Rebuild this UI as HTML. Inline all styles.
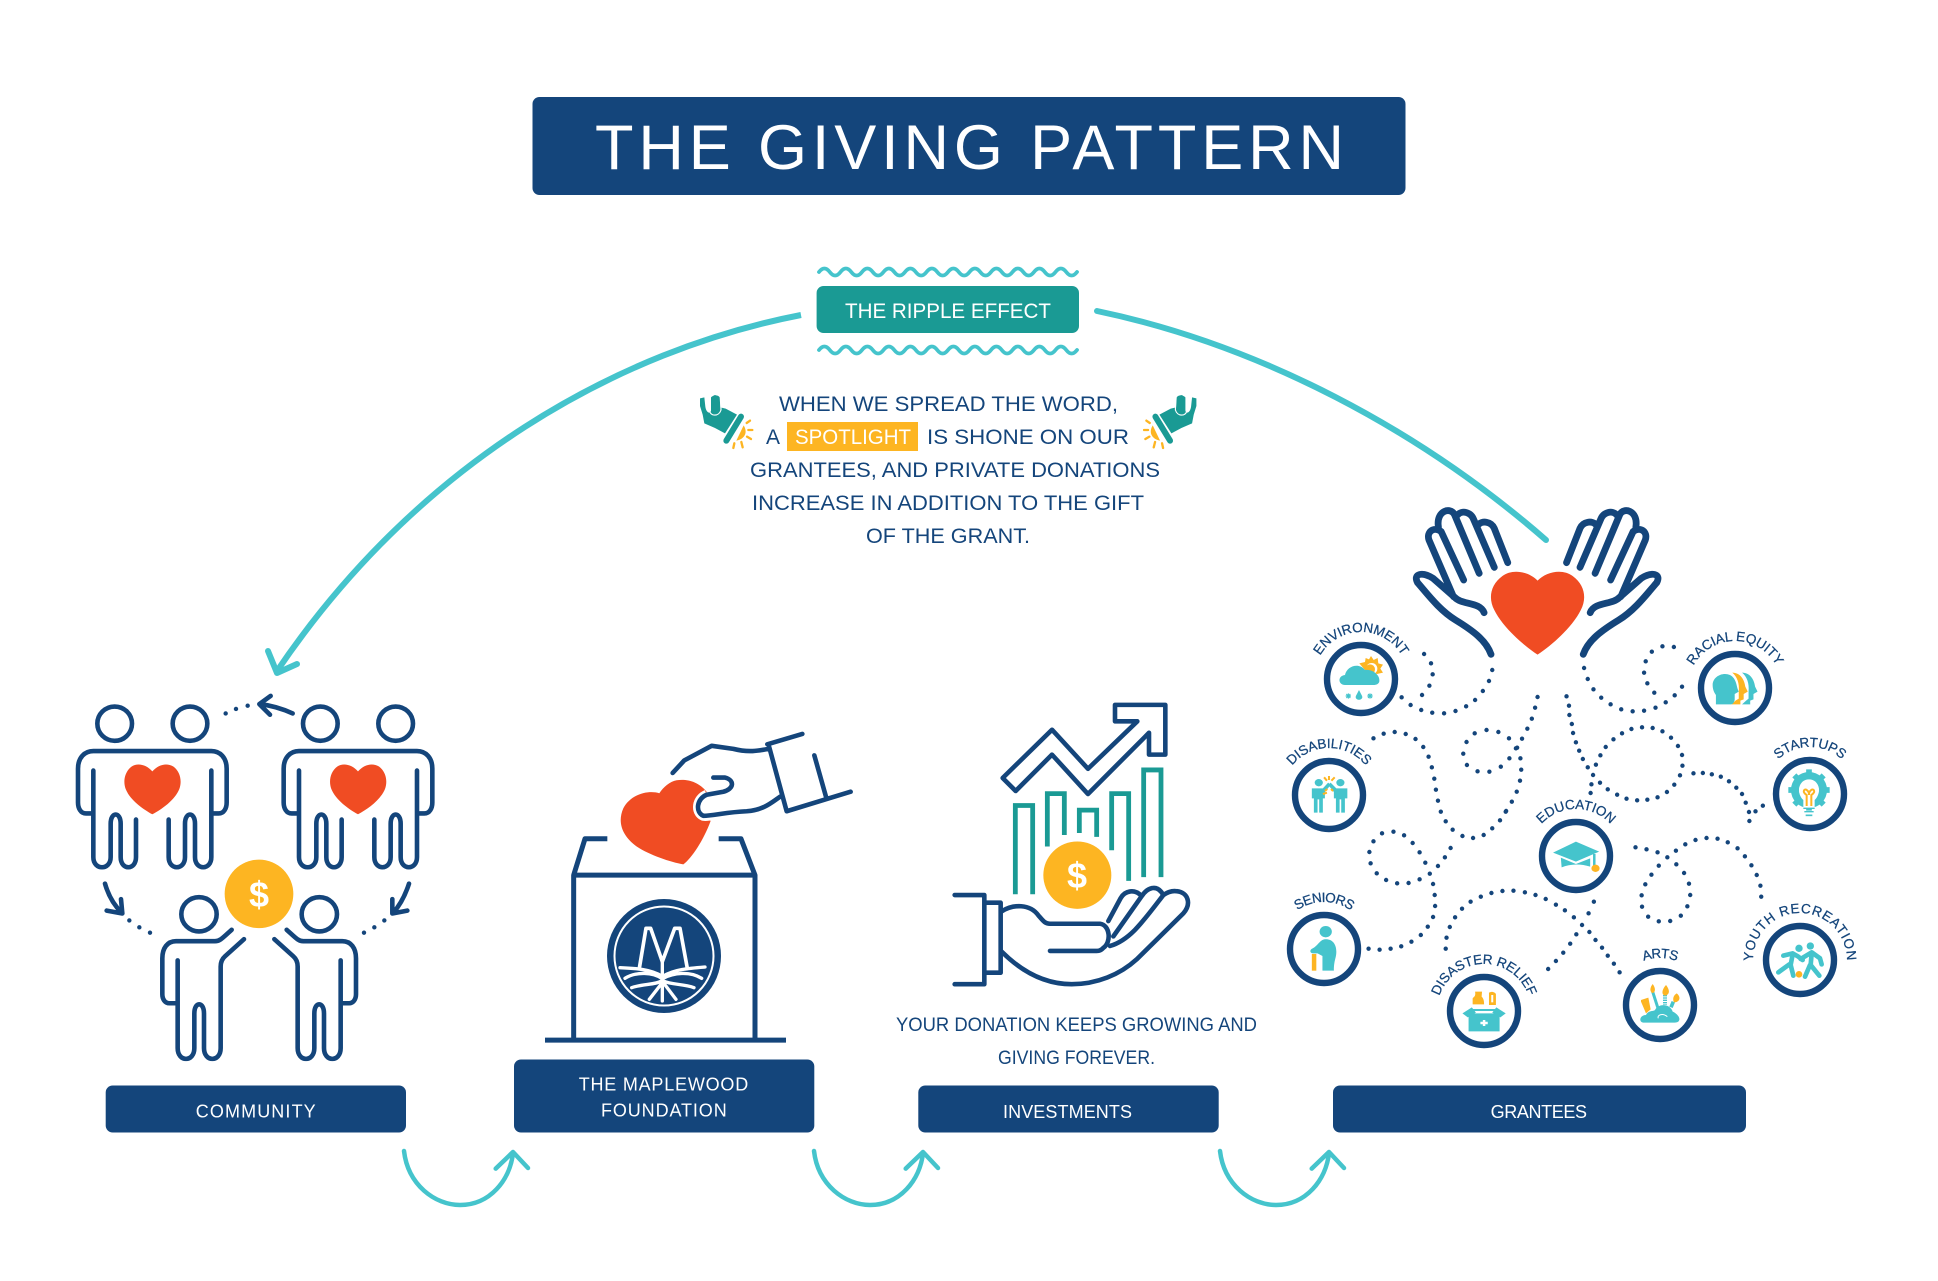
<!DOCTYPE html>
<html><head><meta charset="utf-8"><title>The Giving Pattern</title>
<style>
html,body{margin:0;padding:0;background:#fff}
svg{display:block}
text{font-family:"Liberation Sans",sans-serif}
.z *{vector-effect:non-scaling-stroke}
.n{fill:none;stroke:#14457b;stroke-width:4.6;stroke-linecap:round;stroke-linejoin:round}
.t{fill:none;stroke:#1a9a94;stroke-width:4.8;stroke-linejoin:miter}
.d{fill:none;stroke:#14457b;stroke-width:4.4;stroke-linecap:round}
.c{fill:none;stroke:#45c4cc;stroke-width:4.5;stroke-linecap:round;stroke-linejoin:round}
.ring{fill:#fff;stroke:#14457b;stroke-width:6.4}
.lab{fill:#14457b;font-size:13.5px;letter-spacing:-.1px;stroke:#14457b;stroke-width:.25}
.bt{fill:#fff;font-size:18px}
.te{fill:#45c4cc}.ye{fill:#fdb522}
</style></head><body>
<svg xmlns="http://www.w3.org/2000/svg" width="1938" height="1281" viewBox="0 0 1938 1281">
<defs>
<path id="a1" d="M1361 726A47 47 0 1 1 1361 632A47 47 0 1 1 1361 726"/>
<path id="a2" d="M1735 735A47 47 0 1 1 1735 641A47 47 0 1 1 1735 735"/>
<path id="a3" d="M1329 842A47 47 0 1 1 1329 748A47 47 0 1 1 1329 842"/>
<path id="a4" d="M1810 841A47 47 0 1 1 1810 747A47 47 0 1 1 1810 841"/>
<path id="a5" d="M1576 903A47 47 0 1 1 1576 809A47 47 0 1 1 1576 903"/>
<path id="a6" d="M1324 996A47 47 0 1 1 1324 902A47 47 0 1 1 1324 996"/>
<path id="a7" d="M1484 1058A47 47 0 1 1 1484 964A47 47 0 1 1 1484 1058"/>
<path id="a8" d="M1660 1052A47 47 0 1 1 1660 958A47 47 0 1 1 1660 1052"/>
<path id="a9" d="M1800 1007A47 47 0 1 1 1800 913A47 47 0 1 1 1800 1007"/>
</defs>
<rect width="1938" height="1281" fill="#fff"/>

<!-- title -->
<rect x="532.5" y="97" width="873" height="98" rx="7" fill="#14457b"/>
<text x="595" y="169" font-size="63" fill="#fff" textLength="749" lengthAdjust="spacing">THE GIVING PATTERN</text>

<!-- ripple -->
<path d="M819 272q5.375-7 10.75 0t10.75 0t10.75 0t10.75 0t10.75 0t10.75 0t10.75 0t10.75 0t10.75 0t10.75 0t10.75 0t10.75 0t10.75 0t10.75 0t10.75 0t10.75 0t10.75 0t10.75 0t10.75 0t10.75 0t10.75 0t10.75 0t10.75 0t10.75 0" fill="none" stroke="#45c4cc" stroke-width="3.8" stroke-linecap="round"/>
<path d="M819 350q5.375-7 10.75 0t10.75 0t10.75 0t10.75 0t10.75 0t10.75 0t10.75 0t10.75 0t10.75 0t10.75 0t10.75 0t10.75 0t10.75 0t10.75 0t10.75 0t10.75 0t10.75 0t10.75 0t10.75 0t10.75 0t10.75 0t10.75 0t10.75 0t10.75 0" fill="none" stroke="#45c4cc" stroke-width="3.8" stroke-linecap="round"/>
<rect x="816.6" y="286" width="262.4" height="47" rx="7" fill="#1a9a94"/>
<text x="845" y="318" font-size="21.5" fill="#fff" textLength="206" lengthAdjust="spacingAndGlyphs">THE RIPPLE EFFECT</text>

<!-- big arcs -->
<path d="M801 315C620 350 420 460 277 671" fill="none" stroke="#45c4cc" stroke-width="6"/>
<path d="M268 651L277 673L297 664" fill="none" stroke="#45c4cc" stroke-width="6" stroke-linecap="round" stroke-linejoin="round"/>
<path d="M1097 311C1260 345 1420 430 1546 540" fill="none" stroke="#45c4cc" stroke-width="6" stroke-linecap="round"/>

<!-- spotlight text -->
<g fill="#14457b" font-size="21">
<text x="779" y="411" textLength="339" lengthAdjust="spacingAndGlyphs">WHEN WE SPREAD THE WORD,</text>
<text x="766" y="444" textLength="14" lengthAdjust="spacingAndGlyphs">A</text>
<text x="927" y="444" textLength="202" lengthAdjust="spacingAndGlyphs">IS SHONE ON OUR</text>
<text x="750" y="477" textLength="410" lengthAdjust="spacingAndGlyphs">GRANTEES, AND PRIVATE DONATIONS</text>
<text x="752" y="510" textLength="392" lengthAdjust="spacingAndGlyphs">INCREASE IN ADDITION TO THE GIFT</text>
<text x="866" y="543" textLength="164" lengthAdjust="spacingAndGlyphs">OF THE GRANT.</text>
</g>
<rect x="787" y="422" width="131" height="29" fill="#fdb522"/>
<text x="795" y="444" font-size="21" fill="#fff" textLength="116" lengthAdjust="spacingAndGlyphs">SPOTLIGHT</text>

<!-- flashlights -->
<g transform="translate(695,390) scale(.3333)">
<path d="M15 25L28 22L31 50C34 70 46 72 48 62L48 22C55 14 70 14 74 22L76 52L92 56L126 74L90 130L60 114L28 100L23 74L15 48Z" fill="#1a9a94"/>
<path d="M42 28L44 62C46 80 72 80 78 60L77 25" stroke="#fff" stroke-width="3.5" fill="none"/>
<path d="M60 22L61 64" stroke="#1a9a94" stroke-width="13" fill="none" stroke-linecap="round"/>
<path d="M138 80L94 152" stroke="#1a9a94" stroke-width="18" stroke-linecap="round"/>
<path d="M146 106C158 125 152 146 124 152Z" class="ye"/>
<path d="M155 99L165 92M160 120L172 120M156 140L168 147M139 156L143 172M118 160L115 174" stroke="#fdb522" stroke-width="7" stroke-linecap="round"/>
</g>
<g transform="translate(1896.4,0) scale(-1,1)">
<g transform="translate(695,390) scale(.3333)">
<path d="M15 25L28 22L31 50C34 70 46 72 48 62L48 22C55 14 70 14 74 22L76 52L92 56L126 74L90 130L60 114L28 100L23 74L15 48Z" fill="#1a9a94"/>
<path d="M42 28L44 62C46 80 72 80 78 60L77 25" stroke="#fff" stroke-width="3.5" fill="none"/>
<path d="M60 22L61 64" stroke="#1a9a94" stroke-width="13" fill="none" stroke-linecap="round"/>
<path d="M138 80L94 152" stroke="#1a9a94" stroke-width="18" stroke-linecap="round"/>
<path d="M146 106C158 125 152 146 124 152Z" class="ye"/>
<path d="M155 99L165 92M160 120L172 120M156 140L168 147M139 156L143 172M118 160L115 174" stroke="#fdb522" stroke-width="7" stroke-linecap="round"/>
</g></g>

<!-- community -->
<g class="z" transform="translate(50,640) scale(.33333,.40816)">
<g>
<ellipse class="n" cx="194" cy="205" rx="52" ry="42"/>
<ellipse class="n" cx="420" cy="205" rx="52" ry="42"/>
<path class="n" d="M130 320V532C130 565 182 565 182 532V450C182 420 212 420 212 450V532C212 565 258 565 258 532V440"/>
<path class="n" d="M356 440V532C356 565 405 565 405 532V450C405 420 435 420 435 450V532C435 565 484 565 484 532V320"/>
<path class="n" d="M126 425H108C92 425 84 412 84 398V315C84 288 104 272 130 272H484C510 272 530 288 530 315V398C530 412 522 425 506 425H488"/>
<path fill="#f04c23" d="M307 322C290 305 262 300 245 310C225 322 218 345 227 365C240 392 280 415 307 427C335 415 375 392 388 365C397 345 390 322 370 310C350 300 325 305 307 322Z"/>
</g>
<g transform="translate(617,0)">
<ellipse class="n" cx="194" cy="205" rx="52" ry="42"/>
<ellipse class="n" cx="420" cy="205" rx="52" ry="42"/>
<path class="n" d="M130 320V532C130 565 182 565 182 532V450C182 420 212 420 212 450V532C212 565 258 565 258 532V440"/>
<path class="n" d="M356 440V532C356 565 405 565 405 532V450C405 420 435 420 435 450V532C435 565 484 565 484 532V320"/>
<path class="n" d="M126 425H108C92 425 84 412 84 398V315C84 288 104 272 130 272H484C510 272 530 288 530 315V398C530 412 522 425 506 425H488"/>
<path fill="#f04c23" d="M307 322C290 305 262 300 245 310C225 322 218 345 227 365C240 392 280 415 307 427C335 415 375 392 388 365C397 345 390 322 370 310C350 300 325 305 307 322Z"/>
</g>
<path class="n" d="M728 180Q680 162 630 157M662 137L628 157L660 183"/>
<path class="d" d="M593 161h.01M558 169h.01M527 180h.01M238 687h.01M268 704h.01M300 717h.01M1003 687h.01M973 704h.01M942 717h.01"/>
<path class="n" d="M165 597Q180 640 215 668M213 635L217 670L170 663"/>
<path class="n" d="M1077 597Q1060 640 1030 668M1027 635L1027 670L1072 663"/>
<ellipse class="ye" cx="627" cy="622" rx="103" ry="84"/>
<g>
<ellipse class="n" cx="447" cy="672" rx="53" ry="42"/>
<path class="n" d="M383 785V1000C383 1035 433 1035 433 1000V915C433 885 462 885 462 915V1000C462 1035 512 1035 512 1000V800C512 788 518 780 525 775L582 733"/>
<path class="n" d="M378 890H358C345 890 337 880 337 868V780C337 755 352 738 378 738H495C510 738 518 730 545 710"/>
</g>
<g transform="translate(1255,0) scale(-1,1)">
<ellipse class="n" cx="447" cy="672" rx="53" ry="42"/>
<path class="n" d="M383 785V1000C383 1035 433 1035 433 1000V915C433 885 462 885 462 915V1000C462 1035 512 1035 512 1000V800C512 788 518 780 525 775L582 733"/>
<path class="n" d="M378 890H358C345 890 337 880 337 868V780C337 755 352 738 378 738H495C510 738 518 730 545 710"/>
</g>
</g>
<text x="259" y="907" font-size="36" font-weight="bold" fill="#fff" text-anchor="middle">$</text>

<!-- maple box -->
<g class="z" transform="translate(500,680) scale(.33333,.38265)">
<path class="n" style="stroke-linecap:butt;stroke-width:5" d="M135 941H858M221 940V510H765V940M221 510L255 415H322M765 510L723 415H656"/>
<path fill="#f04c23" d="M478 296C450 288 395 295 370 335C350 375 370 410 410 435C450 458 510 475 550 482C575 465 610 420 632 368L590 345L620 292C595 265 560 258 530 262C510 265 490 280 478 296Z"/>
<path fill="none" stroke="#fff" stroke-width="10" d="M620 300C590 310 585 345 610 355C625 357 640 352 660 350"/>
<path class="n" d="M518 243L553 210L635 172L700 180C745 190 775 185 805 180M640 255H675C705 262 702 285 670 292L620 300C590 310 585 345 610 355C640 355 680 345 740 343C790 340 815 320 840 305M802 168L907 141M806 170L860 343L1052 292M943 197L978 305"/>
</g>
<circle cx="664" cy="956" r="57" fill="#14457b"/>
<circle cx="664" cy="956" r="49.5" fill="none" stroke="#fff" stroke-width="2"/>
<g transform="translate(600,891) scale(.3333)" fill="none" stroke="#fff" stroke-linecap="round" stroke-linejoin="round">
<path stroke-width="11" d="M118 232L138 112H152L187 212L224 112H240L262 232"/>
<path stroke-width="10" d="M60 230C110 232 150 235 185 255M315 228C265 232 225 235 190 255M75 262C110 240 160 245 185 262M305 262C270 240 220 245 190 262M95 290C130 278 165 282 185 270M282 290C250 278 215 282 190 270M148 325L187 275M228 325L190 275M187 215V330"/>
</g>

<!-- investments -->
<g class="z" transform="translate(880,680) scale(.33333,.38265)">
<path class="n" d="M368 256L516 130L624 232L772 108H705V65H856V195H807V138L624 298L516 195L407 290Z"/>
<path class="t" d="M406 560V328H458V560M502 435V297H553V405M598 400V340H650V410M695 445V297H746V525M791 515V235H843V515"/>
<ellipse class="ye" cx="592" cy="510" rx="102" ry="88"/>
<path class="n" d="M224 562H313V795H224M313 582H362V765H313"/>
<path class="n" d="M364 605C400 585 450 585 475 615C490 630 495 637 510 637H660C690 640 695 685 670 700C662 708 655 708 645 708H510M365 710C440 775 510 795 575 795C650 795 720 770 770 730L910 610C935 585 925 555 890 552C875 550 862 555 850 562C830 530 800 545 785 565C765 545 735 550 722 570L685 630M690 695C750 680 790 630 850 562M700 670L785 565"/>
</g>
<text x="1077" y="888" font-size="36" font-weight="bold" fill="#fff" text-anchor="middle">$</text>
<g fill="#14457b" font-size="19.5">
<text x="896" y="1031" textLength="361" lengthAdjust="spacingAndGlyphs">YOUR DONATION KEEPS GROWING AND</text>
<text x="998" y="1064" textLength="157" lengthAdjust="spacingAndGlyphs">GIVING FOREVER.</text>
</g>

<!-- bars -->
<g fill="#14457b">
<rect x="105.7" y="1085.5" width="300.3" height="47" rx="7"/>
<rect x="514" y="1059.5" width="300.3" height="73" rx="7"/>
<rect x="918.3" y="1085.5" width="300.4" height="47" rx="7"/>
<rect x="1333" y="1085.5" width="413" height="47" rx="7"/>
</g>
<text class="bt" x="195.7" y="1117.6" textLength="120" lengthAdjust="spacing">COMMUNITY</text>
<text class="bt" x="578.7" y="1090.6" textLength="169.5" lengthAdjust="spacing">THE MAPLEWOOD</text>
<text class="bt" x="601" y="1116.6" textLength="125.7" lengthAdjust="spacing">FOUNDATION</text>
<text class="bt" x="1003" y="1118" textLength="129" lengthAdjust="spacing">INVESTMENTS</text>
<text class="bt" x="1490.6" y="1118" textLength="96.4" lengthAdjust="spacing">GRANTEES</text>

<!-- small curved arrows -->
<g><path class="c" d="M404 1151C408 1185 435 1205 460 1205C490 1205 510 1180 513 1153M495.7 1168.6L513 1152L528 1168"/></g>
<g transform="translate(410,0)"><path class="c" d="M404 1151C408 1185 435 1205 460 1205C490 1205 510 1180 513 1153M495.7 1168.6L513 1152L528 1168"/></g>
<g transform="translate(816,0)"><path class="c" d="M404 1151C408 1185 435 1205 460 1205C490 1205 510 1180 513 1153M495.7 1168.6L513 1152L528 1168"/></g>

<!-- hands & heart -->
<g class="z" transform="translate(1280,490) scale(.40816,.33333)">
<g fill="none" stroke="#14457b" stroke-width="6.8" stroke-linecap="round" stroke-linejoin="round">
<path d="M517 493C505 450 470 420 430 390C390 360 360 310 337 278C325 250 350 245 375 265L428 322C445 345 490 335 500 368M425 320L365 150C358 125 378 108 395 125L450 270M388 118V110C382 60 420 50 428 75L488 250M435 75C445 60 468 65 475 90L525 232M485 105C495 90 518 95 525 115L558 218"/>
<g transform="translate(1260,0) scale(-1,1)"><path d="M517 493C505 450 470 420 430 390C390 360 360 310 337 278C325 250 350 245 375 265L428 322C445 345 490 335 500 368M425 320L365 150C358 125 378 108 395 125L450 270M388 118V110C382 60 420 50 428 75L488 250M435 75C445 60 468 65 475 90L525 232M485 105C495 90 518 95 525 115L558 218"/></g>
</g>
<path fill="#f04c23" d="M631 272C610 245 570 235 545 258C515 285 510 325 525 360C545 410 595 465 631 494C667 465 717 410 737 360C752 325 747 285 717 258C692 235 652 245 631 272Z"/>
<path class="d" d="M520 540h.01M512 573h.01M497 603h.01M478 630h.01M456 649h.01M430 663h.01M402 670h.01M373 668h.01M346 660h.01M320 645h.01M298 622h.01M353 492h.01M370 520h.01M374 553h.01M366 587h.01M348 615h.01M745 534h.01M754 567h.01M768 598h.01M787 623h.01M810 643h.01M836 658h.01M864 664h.01M892 662h.01M920 653h.01M945 637h.01M967 616h.01M985 590h.01M965 471h.01M937 469h.01M911 485h.01M896 514h.01M892 548h.01M900 580h.01M917 608h.01M631 621h.01M625 653h.01M617 686h.01M606 716h.01M593 746h.01M578 775h.01M562 805h.01M541 830h.01M513 845h.01M484 844h.01M458 825h.01M449 791h.01M457 756h.01M477 730h.01M506 720h.01M535 726h.01M561 745h.01M581 773h.01M589 805h.01M591 839h.01M588 872h.01M580 905h.01M568 935h.01M553 965h.01M394 965h.01M387 932h.01M382 899h.01M378 866h.01M372 832h.01M364 800h.01M351 771h.01M332 747h.01M308 732h.01M281 726h.01M254 731h.01M229 745h.01M702 619h.01M708 647h.01M709 675h.01M715 702h.01M718 729h.01M725 757h.01M733 782h.01M742 807h.01M754 832h.01M763 883h.01M761 909h.01M1013 850h.01M1036 849h.01M1058 853h.01M1080 860h.01M1100 874h.01M1118 893h.01M1132 912h.01M1141 938h.01M1149 966h.01M1165 964h.01M1183 947h.01M980 856h.01M966 884h.01M948 906h.01M925 922h.01M900 929h.01M875 931h.01M849 926h.01M826 914h.01M803 898h.01M784 878h.01M767 855h.01M774 824h.01M785 796h.01M798 771h.01M817 748h.01M838 730h.01M861 717h.01M887 712h.01M913 714h.01M937 724h.01M958 743h.01M975 768h.01M985 795h.01M986 827h.01"/>
</g>
<g class="z" transform="translate(1280,800) scale(.40816,.33333)">
<path class="d" d="M554 33h.01M539 61h.01M520 85h.01M499 105h.01M473 114h.01M447 108h.01M423 89h.01M406 64h.01M1150 63h.01M871 142h.01M898 148h.01M925 157h.01M949 172h.01M971 193h.01M990 219h.01M1002 251h.01M1005 285h.01M998 319h.01M982 347h.01M956 363h.01M928 364h.01M902 350h.01M887 320h.01M886 286h.01M895 253h.01M910 224h.01M928 197h.01M970 152h.01M993 133h.01M1018 120h.01M1045 114h.01M1072 116h.01M1097 127h.01M1121 145h.01M1139 169h.01M1155 196h.01M1168 225h.01M1177 257h.01M1179 290h.01M217 446h.01M244 449h.01M271 446h.01M297 439h.01M322 425h.01M345 405h.01M362 380h.01M375 351h.01M380 318h.01M379 285h.01M375 252h.01M367 221h.01M356 188h.01M342 157h.01M325 129h.01M304 106h.01M278 95h.01M250 100h.01M229 124h.01M219 156h.01M222 190h.01M237 220h.01M260 240h.01M287 250h.01M315 249h.01M342 238h.01M387 198h.01M404 172h.01M418 144h.01M406 446h.01M408 413h.01M416 381h.01M429 352h.01M446 326h.01M467 305h.01M492 290h.01M518 279h.01M545 273h.01M572 272h.01M600 277h.01M626 285h.01M651 297h.01M676 314h.01M698 331h.01M720 352h.01M740 375h.01M758 396h.01M773 420h.01M789 443h.01M803 467h.01M818 491h.01M832 517h.01M769 305h.01M756 340h.01M726 403h.01M711 431h.01M694 458h.01M676 483h.01M657 507h.01"/>
</g>

<!-- rings -->
<circle class="ring" cx="1361" cy="679" r="34"/>
<circle class="ring" cx="1735" cy="688" r="34"/>
<circle class="ring" cx="1329" cy="795" r="34"/>
<circle class="ring" cx="1810" cy="794" r="34"/>
<circle class="ring" cx="1576" cy="856" r="34"/>
<circle class="ring" cx="1324" cy="949" r="34"/>
<circle class="ring" cx="1484" cy="1011" r="34"/>
<circle class="ring" cx="1660" cy="1005" r="34"/>
<circle class="ring" cx="1800" cy="960" r="34"/>

<!-- ring labels -->
<text class="lab"><textPath href="#a1" startOffset="50%" text-anchor="middle">ENVIRONMENT</textPath></text>
<text class="lab"><textPath href="#a2" startOffset="50%" text-anchor="middle">RACIAL EQUITY</textPath></text>
<text class="lab"><textPath href="#a3" startOffset="50%" text-anchor="middle">DISABILITIES</textPath></text>
<text class="lab"><textPath href="#a4" startOffset="50%" text-anchor="middle">STARTUPS</textPath></text>
<text class="lab"><textPath href="#a5" startOffset="50%" text-anchor="middle">EDUCATION</textPath></text>
<text class="lab" style="letter-spacing:-.6px"><textPath href="#a6" startOffset="50%" text-anchor="middle">SENIORS</textPath></text>
<text class="lab"><textPath href="#a7" startOffset="50%" text-anchor="middle">DISASTER RELIEF</textPath></text>
<text class="lab" style="letter-spacing:-.6px"><textPath href="#a8" startOffset="50%" text-anchor="middle">ARTS</textPath></text>
<text class="lab" style="letter-spacing:.7px"><textPath href="#a9" startOffset="50%" text-anchor="middle">YOUTH RECREATION</textPath></text>

<!-- environment icon -->
<g transform="translate(1315,620) scale(.3333)">
<path class="ye" d="M168 108L176 120L188 114L190 130L204 134L196 146L204 158L186 162L150 150L133 130L150 126L152 114L162 118Z"/>
<circle cx="170" cy="146" r="17" fill="#fff"/><circle cx="165" cy="148" r="15" class="ye"/>
<path class="te" d="M90 195C70 195 66 168 90 165C95 138 132 126 150 150C172 146 196 165 193 184C192 191 185 195 175 195Z"/>
<path d="M100 220V236M92 228H108M94 222L106 234M106 222L94 234M165 220V236M157 228H173M159 222L171 234M171 222L159 234" stroke="#45c4cc" stroke-width="3.5"/>
<path class="te" d="M132 210C126 222 122 228 122 231C122 242 142 242 142 231C142 228 138 222 132 210Z"/>
</g>
<!-- racial equity icon -->
<g class="z" transform="translate(1280,490) scale(.40816,.33333)">
<path class="te" d="M1132 548C1152 548 1162 570 1164 590L1170 605L1160 612V628L1152 632V643H1132L1142 632L1148 626V605C1150 580 1144 560 1132 548Z"/>
<path class="ye" d="M1108 548C1128 548 1138 570 1140 590L1146 605L1136 612V628L1128 632V643H1106L1116 632L1124 626V605C1126 580 1120 560 1108 548Z"/>
<path class="te" d="M1060 585C1060 553 1098 540 1112 565C1120 580 1118 590 1124 605L1114 612V630C1112 640 1108 643 1105 643H1068L1068 615C1062 605 1060 595 1060 585Z"/>
<!-- disabilities -->
<ellipse class="te" cx="95" cy="878" rx="10" ry="11"/>
<ellipse class="te" cx="148" cy="878" rx="10" ry="11"/>
<path class="te" d="M78 895H105L118 878L124 885L110 906V925H105V968H96V928H92V968H83V925H78Z"/>
<path class="te" d="M165 895H138L124 878L118 885L132 906V925H137V968H146V928H150V968H159V925H165Z"/>
<path d="M108 862L115 872M120 858V870M134 862L126 872M110 903L116 897M130 903L125 897M105 912L115 908" stroke="#fdb522" stroke-width="2" fill="none"/>
</g>
<!-- startups icon -->
<g transform="translate(1760,740) scale(.3333)">
<circle cx="147" cy="150" r="42" fill="none" stroke="#45c4cc" stroke-width="24"/>
<path d="M147 88V110M147 190V212M85 150H107M187 150H209M103 106L119 122M175 178L191 194M191 106L175 122M119 178L103 194" stroke="#45c4cc" stroke-width="17"/>
<path d="M147 118C115 118 108 160 130 180V205H164V180C186 160 179 118 147 118Z" fill="#fff"/>
<path d="M140 198V165C125 155 133 145 140 150C147 155 147 160 147 165C147 160 147 155 154 150C161 145 169 155 154 165V198" fill="none" stroke="#fdb522" stroke-width="6"/>
<path d="M130 205H164M133 215H161" stroke="#45c4cc" stroke-width="4"/>
<path d="M137 226H157" stroke="#45c4cc" stroke-width="5"/>
</g>
<!-- education, seniors, disaster -->
<g class="z" transform="translate(1280,800) scale(.40816,.33333)">
<path class="te" d="M669 158L725 125L782 155L725 185Z"/>
<path class="te" d="M688 173L725 192L760 175V200C735 190 710 192 690 202Z"/>
<path d="M770 162V198" stroke="#45c4cc" stroke-width="2.5" fill="none"/>
<ellipse class="ye" cx="773" cy="205" rx="10" ry="11"/>
<ellipse class="te" cx="112" cy="395" rx="15" ry="17"/>
<path class="te" d="M108 418C125 415 138 428 138 455C138 475 132 480 132 512H104V468L92 460H80C72 458 73 448 80 445C92 438 96 422 108 418Z"/>
<path class="ye" d="M78 462H89V512H78Z"/>
<path class="te" d="M462 640L538 640L538 694H462Z"/>
<path class="te" d="M447 640L470 622L480 638L460 652ZM553 640L530 622L520 638L540 652Z"/>
<path d="M472 630H528" stroke="#45c4cc" stroke-width="2"/>
<path d="M500 660V678M491 669H509" stroke="#fff" stroke-width="2.5"/>
<path class="ye" d="M472 613V595C475 590 480 590 478 575H495L494 590C498 595 500 600 500 613Z"/>
<path class="ye" d="M512 578C520 572 528 578 529 582V615H512Z"/>
<path d="M520 585V607" stroke="#fff" stroke-width="2"/>
</g>
<!-- arts -->
<g transform="translate(1610,960) scale(.3333)">
<path class="te" d="M102 188C85 188 88 165 108 165C115 150 130 155 135 150C145 130 180 130 188 155C200 160 215 175 205 185C200 188 195 188 190 188Z"/>
<path d="M145 175C140 165 158 158 172 170" stroke="#fff" stroke-width="3" fill="none"/>
<path class="ye" d="M93 120L115 113L122 148L108 160L93 125Z"/>
<path d="M128 95L145 148" stroke="#45c4cc" stroke-width="9"/>
<path class="ye" d="M128 72C138 85 136 97 128 99C120 97 118 85 128 72Z"/>
<path d="M165 105V135" stroke="#45c4cc" stroke-width="12" stroke-dasharray="4 3"/>
<path class="ye" d="M168 75C180 90 180 104 165 107C153 104 156 88 168 75Z"/>
<path d="M190 125L183 142" stroke="#45c4cc" stroke-width="11"/>
<path class="ye" d="M200 100C214 110 210 127 192 127C186 115 192 105 200 100Z"/>
</g>
<!-- youth -->
<g transform="translate(1750,915) scale(.3333)">
<circle cx="147" cy="100" r="11" class="te"/>
<circle cx="181" cy="93" r="11" class="te"/>
<path d="M100 122L128 115L145 125L158 135M128 118L122 150L130 182M118 148L85 172" fill="none" stroke="#45c4cc" stroke-width="14" stroke-linecap="round" stroke-linejoin="round"/>
<path d="M152 132L185 112L210 130L215 148M185 115L182 150L208 182M180 150L165 185" fill="none" stroke="#45c4cc" stroke-width="14" stroke-linecap="round" stroke-linejoin="round"/>
<circle cx="147" cy="178" r="10" class="ye"/>
</g>
</svg>
</body></html>
